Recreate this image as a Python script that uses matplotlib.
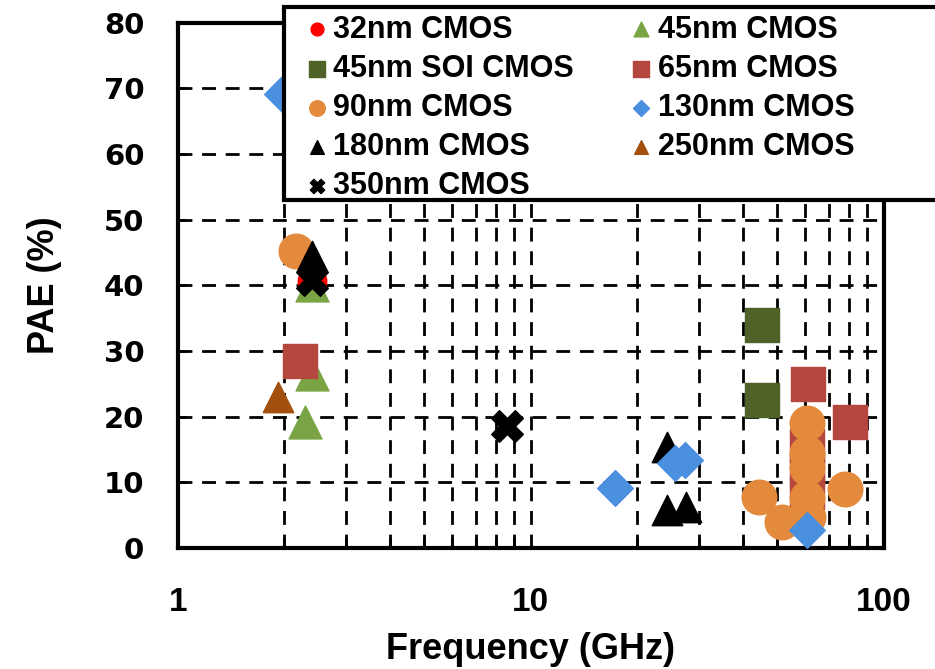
import matplotlib.pyplot as plt
from matplotlib.patches import Rectangle
from matplotlib.ticker import LogLocator, NullFormatter, FixedLocator

plt.rcParams['font.family'] = ['Liberation Sans', 'DejaVu Sans']

# --- data (frequency GHz, PAE %) ---
f_32 = [2.4];            pae_32 = [40.6]
f_45 = [2.4, 2.4, 2.29]; pae_45 = [40.0, 26.5, 19.2]
f_soi = [45.1, 45.1];    pae_soi = [34.0, 22.6]
f_65 = [2.22, 60.9, 80.1, 60.5, 60.5, 60.5]
pae_65 = [28.4, 24.9, 19.2, 15.5, 12.0, 8.5]
f_90 = [2.17, 60.5, 60.5, 60.5, 60.5, 61.0, 44.5, 51.4, 77.6]
pae_90 = [45.2, 19.1, 14.5, 12.2, 7.6, 4.7, 7.8, 4.0, 8.9]
f_130 = [1.98, 17.3, 27.3, 25.6, 60.5]
pae_130 = [69.2, 9.2, 13.4, 13.0, 2.7]
f_180 = [2.4, 24.4, 24.4, 27.6]
pae_180 = [44.5, 15.4, 5.8, 6.3]
f_250 = [1.92];          pae_250 = [23.0]
f_350 = [2.4, 8.6];      pae_350 = [40.8, 18.6]

fig = plt.figure(figsize=(9.35, 6.69), dpi=100)
ax = fig.add_axes([0.190, 0.181, 0.755, 0.785])

h = {}
h['32'] = ax.scatter(f_32, pae_32, s=420, marker='o', color='#FF0000', zorder=3, label='32nm CMOS')
h['350'] = ax.scatter(f_350, pae_350, s=520, marker='X', color='black', zorder=4, label='350nm CMOS')
h['45'] = ax.scatter(f_45, pae_45, s=560, marker='^', color='#7AA443', zorder=3, label='45nm CMOS')
h['soi'] = ax.scatter(f_soi, pae_soi, s=620, marker='s', color='#4F6228', zorder=3, label='45nm SOI CMOS')
h['65'] = ax.scatter(f_65, pae_65, s=620, marker='s', color='#B5473F', zorder=3, label='65nm CMOS')
h['90'] = ax.scatter(f_90, pae_90, s=620, marker='o', color='#E38A3C', zorder=4, label='90nm CMOS')
h['130'] = ax.scatter(f_130, pae_130, s=330, marker='D', color='#4A8FE0', zorder=5, label='130nm CMOS')
h['180'] = ax.scatter(f_180, pae_180, s=480, marker='^', color='black', zorder=4, label='180nm CMOS')
h['250'] = ax.scatter(f_250, pae_250, s=480, marker='^', color='#A3500E', zorder=3, label='250nm CMOS')

ax.set_xscale('log')
ax.set_xlim(1, 100)
ax.set_ylim(0, 80)
ax.set_yticks(range(0, 81, 10))
ax.xaxis.set_major_locator(FixedLocator([1, 10, 100]))
ax.set_xticklabels(['1', '10', '100'])
ax.xaxis.set_minor_locator(LogLocator(base=10, subs=range(2, 10)))
ax.xaxis.set_minor_formatter(NullFormatter())

grid_kw = dict(color='black', linestyle=(0, (5, 3.5)), linewidth=2.0)
ax.grid(True, axis='y', which='major', **grid_kw)
ax.grid(True, axis='x', which='both', **grid_kw)
ax.set_axisbelow(True)

for s in ax.spines.values():
    s.set_linewidth(3.0)
ax.tick_params(axis='both', which='both', direction='in', width=2.0)
ax.tick_params(axis='y', length=6, pad=24, labelsize=21)
ax.tick_params(axis='x', which='major', length=0, pad=28, labelsize=24)
ax.tick_params(axis='x', which='minor', length=7)
for t in ax.get_yticklabels():
    t.set_family(['DejaVu Sans'])
    t.set_fontweight('bold')
for t in ax.get_xticklabels():
    t.set_fontweight('bold')

ax.set_xlabel('Frequency (GHz)', fontsize=26, fontweight='bold', labelpad=10)
ax.set_ylabel('PAE (%)', fontsize=26, fontweight='bold', labelpad=30)

# legend box running off the right edge of the figure
fig.add_artist(Rectangle((0.304, 0.701), 0.75, 0.289, transform=fig.transFigure,
                         facecolor='white', edgecolor='black', linewidth=3.0, zorder=4))
order = ['32', 'soi', '90', '180', '350', '45', '65', '130', '250']
leg = fig.legend([h[k] for k in order], [h[k].get_label() for k in order],
                 ncol=2, loc='upper left', bbox_to_anchor=(0.306, 1.008), frameon=False,
                 prop={'size': 22, 'weight': 'bold'}, markerscale=0.45,
                 handlelength=0.7, handletextpad=0.2, labelspacing=0.3,
                 columnspacing=1.85, borderpad=0.15)
leg.set_zorder(6)

fig.savefig('out.png', dpi=100)
